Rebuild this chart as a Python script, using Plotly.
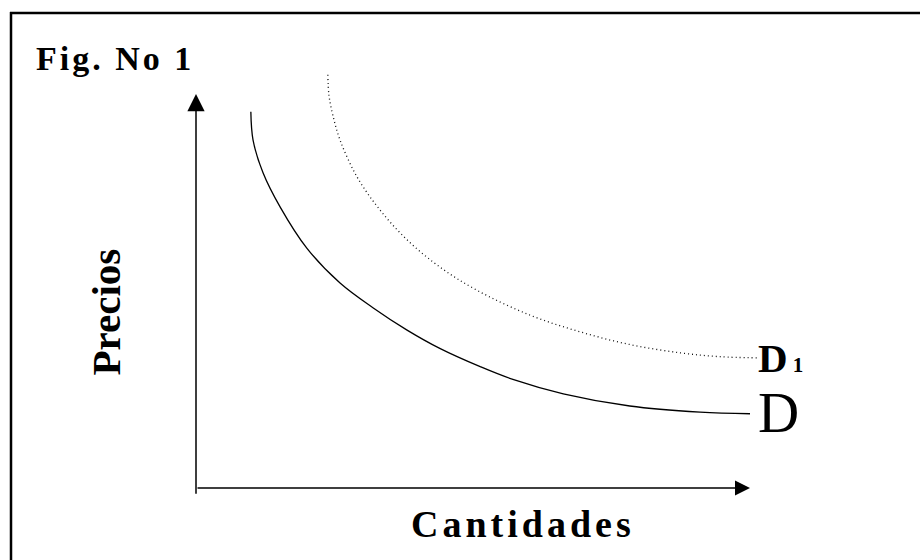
import plotly.graph_objects as go

# ---- data (arbitrary quantity / price units) ----
q_D = [0.99, 1.03, 1.21, 1.52, 2.00, 2.60, 3.20, 3.81, 4.40, 5.13, 5.72, 6.63, 7.83, 9.10, 10.0]
p_D = [6.79, 6.28, 5.69, 5.07, 4.33, 3.70, 3.25, 2.85, 2.52, 2.19, 1.96, 1.70, 1.48, 1.37, 1.34]

q_D1 = [2.38, 2.40, 2.47, 2.60, 2.91, 3.32, 3.81, 4.40, 5.07, 6.03, 6.93, 7.83, 8.74, 9.46, 10.13]
p_D1 = [7.46, 7.09, 6.73, 6.28, 5.61, 5.02, 4.48, 3.99, 3.57, 3.12, 2.82, 2.59, 2.44, 2.37, 2.35]

x_axis_end = 10.0
y_axis_end = 7.11
y_axis_below = -0.13

title_text = "Fig. No 1"
x_title = "Cantidades"
y_title = "Precios"
label_D = "D"
label_D1 = "D"
label_D1_sub = "1"

SERIF = "Liberation Serif, Times New Roman, serif"

fig = go.Figure()
fig.add_trace(go.Scatter(x=q_D, y=p_D, mode="lines",
                         line=dict(color="black", width=1.3, shape="spline", smoothing=1.0),
                         hoverinfo="skip", showlegend=False))
fig.add_trace(go.Scatter(x=q_D1, y=p_D1, mode="lines",
                         line=dict(color="#111111", width=1.3, dash="1px,3px", shape="spline", smoothing=1.0),
                         hoverinfo="skip", showlegend=False))

annotations = []
# y axis arrow
annotations.append(dict(x=0, y=y_axis_end, ax=0, ay=y_axis_below, xref="x", yref="y",
                        axref="x", ayref="y", text="", showarrow=True, arrowhead=2,
                        arrowsize=2.3, arrowwidth=1.5, arrowcolor="black", standoff=0))
# x axis arrow
annotations.append(dict(x=x_axis_end, y=0, ax=0, ay=0, xref="x", yref="y",
                        axref="x", ayref="y", text="", showarrow=True, arrowhead=2,
                        arrowsize=2.0, arrowwidth=1.5, arrowcolor="black", standoff=0))
# curve labels
annotations.append(dict(x=q_D1[-1] - 0.02, y=p_D1[-1], xref="x", yref="y",
                        xanchor="left", yanchor="middle", showarrow=False,
                        text="<b>" + label_D1 + "</b><span style='font-size:21px'><b> " + label_D1_sub + "</b></span>",
                        font=dict(family=SERIF, size=41, color="black")))
annotations.append(dict(x=q_D[-1] + 0.1, y=p_D[-1] + 0.03, xref="x", yref="y",
                        xanchor="left", yanchor="middle", showarrow=False,
                        text=label_D, font=dict(family=SERIF, size=57, color="black")))
# titles
annotations.append(dict(x=34 / 920, y=1 - 58.5 / 560, xref="paper", yref="paper",
                        xanchor="left", yanchor="middle", showarrow=False,
                        text="<b><span style='letter-spacing:3px'>" + title_text + "</span></b>",
                        font=dict(family=SERIF, size=34, color="black")))
annotations.append(dict(x=523 / 920, y=1 - 524 / 560, xref="paper", yref="paper",
                        xanchor="center", yanchor="middle", showarrow=False,
                        text="<b><span style='letter-spacing:4px'>" + x_title + "</span></b>",
                        font=dict(family=SERIF, size=38, color="black")))
annotations.append(dict(x=105.5 / 920, y=1 - 312 / 560, xref="paper", yref="paper",
                        xanchor="center", yanchor="middle", showarrow=False, textangle=-90,
                        text="<b>" + y_title + "</b>",
                        font=dict(family=SERIF, size=41, color="black")))

shapes = [
    dict(type="line", xref="paper", yref="paper", x0=10 / 920, x1=1.0,
         y0=1 - 13 / 560, y1=1 - 13 / 560, line=dict(color="black", width=2.5)),
    dict(type="line", xref="paper", yref="paper", x0=11 / 920, x1=11 / 920,
         y0=0, y1=1 - 12 / 560, line=dict(color="black", width=2.5)),
]

unit = 55.4
fig.update_layout(
    width=920, height=560,
    margin=dict(l=0, r=0, t=0, b=0),
    paper_bgcolor="white", plot_bgcolor="white",
    xaxis=dict(range=[-196 / unit, (920 - 196) / unit], visible=False, fixedrange=True),
    yaxis=dict(range=[-(560 - 488) / unit, 488 / unit], visible=False, fixedrange=True),
    annotations=annotations, shapes=shapes,
)

fig.write_html("out.html", config={"displayModeBar": False},
               post_script="document.body.style.margin='0';document.body.style.overflow='hidden';")
